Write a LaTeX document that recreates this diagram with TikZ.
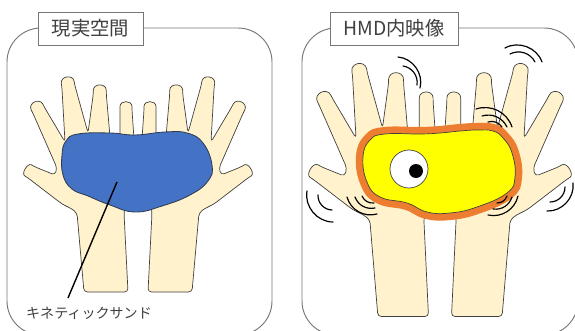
\documentclass[tikz,border=0pt]{standalone}
\usepackage{fontspec}
\setmainfont{Noto Sans CJK JP}
\definecolor{handfill}{HTML}{FFF2CC}
\definecolor{handline}{HTML}{404040}
\definecolor{sandblue}{HTML}{4472C4}
\definecolor{sandline}{HTML}{2F3B52}
\definecolor{jellyrim}{HTML}{ED7D31}
\definecolor{jellyfill}{HTML}{FFFF00}
\definecolor{panelgrey}{HTML}{767676}
\definecolor{textgrey}{HTML}{404040}
% outline of one (left) hand, palm up; origin at the palm centre line, #1 = arm end
\newcommand\handoutline[1]{%
 (-54,#1) -- (-61,46) .. controls (-66,42) .. (-76,37)
 -- (-110.3,10.7) .. controls (-117.1,6.5) and (-110.3,-4.5) .. (-103.5,-0.3)
 -- (-83,8) -- (-81,1)
 -- (-105.2,-54.0) .. controls (-110.2,-63.8) and (-98.6,-69.6) .. (-93.6,-59.8)
 -- (-73,-25)
 -- (-76.1,-80.0) .. controls (-77.9,-90.8) and (-65.1,-93.0) .. (-63.3,-82.2)
 -- (-50,-34)
 -- (-44.7,-73) .. controls (-44.7,-84) and (-31.7,-84) .. (-31.7,-73)
 -- (-28,-30) -- (-18,-30)
 -- (-18,-57) .. controls (-18,-67) and (-6,-67) .. (-6,-57)
 -- (-4,-28) -- (-14,46) -- (-10,#1) -- cycle}
% the sand lump and the jelly creature
\newcommand\sandshape{plot[smooth cycle, tension=0.75] coordinates {
 (66,141) (78,134) (110,133) (135,135) (165,132) (187,133) (203,143)
 (212,165) (208,181) (190,195) (162,206) (135,212) (110,205) (88,196)
 (72,189) (63,175) (62,155)}}
\newcommand\jellyshape{plot[smooth cycle, tension=0.75] coordinates {
 (370,140) (385,134) (420,134) (440,133) (460,131) (477,130) (493,131)
 (503,138) (512,153) (515,177) (507,193) (477,207) (450,213) (427,212)
 (407,203) (380,197) (367,182) (363,157)}}
\begin{document}
\begin{tikzpicture}[x=0.03cm, y=-0.03cm,
  panel/.style={draw=panelgrey, line width=0.8pt, rounded corners=29pt},
  tag/.style={draw=panelgrey, fill=white, line width=0.8pt, inner sep=0pt,
    minimum height=0.99cm, text=textgrey, font=\fontsize{16.5}{18}\selectfont},
  hand/.style={fill=handfill, draw=handline, line width=0.6pt,
    line join=round, rounded corners=3pt},
  shake/.style={draw=black, line width=1pt, line cap=round},
  leader/.style={draw=black, line width=1.2pt}]
\useasboundingbox (0,0) rectangle (575,331);
\clip (0,0) rectangle (575,331);

% ---- real space panel ----
\draw[panel] (7,28) rectangle (272,335);
\begin{scope}[shift={(138,167)}]
  \path[hand] \handoutline{125};
  \path[hand, xscale=-1] \handoutline{125};
\end{scope}
\draw[fill=sandblue, draw=sandline, line width=0.7pt] \sandshape;
\node[inner sep=0pt, text=textgrey, font=\fontsize{12}{14}\selectfont]
  (sandlabel) at (89,313) {キネティックサンド};
\coordinate (sandpt) at (117,182);
\coordinate (leaderend) at (68,298);
\draw[leader] (sandpt) -- (leaderend);
\node[tag, minimum width=3.15cm] (tagreal) at (90.5,28.5) {現実空間};

% ---- HMD view panel ----
\draw[panel] (302,28) rectangle (578,335);
\begin{scope}[shift={(440,167)}, scale=1.15]
  \path[hand] \handoutline{130};
  \path[hand, xscale=-1] \handoutline{130};
\end{scope}
\draw[draw=jellyrim, line width=12pt, line join=round] \jellyshape;
\draw[fill=jellyfill, draw=handline, line width=0.6pt] \jellyshape;
\draw[fill=white, draw=handline, line width=0.6pt] (409,169) circle[radius=0.57cm];
\fill[black] (416,171) circle[radius=0.21cm];

% shaking marks
\draw[shake] (398,57) to[bend left=50] (420,88);
\draw[shake] (403,66) to[bend left=45] (417,85);
\draw[shake] (505,48) to[bend left=50] (542,62);
\draw[shake] (510,54) to[bend left=45] (535,62);
\draw[shake] (476,109) to[bend left=45] (512,127);
\draw[shake] (482,116) to[bend left=40] (507,127);
\draw[shake] (488,122) to[bend left=35] (502,127);
\draw[shake] (307,191) to[bend right=50] (333,222);
\draw[shake] (318,195) to[bend right=45] (332,210);
\draw[shake] (347,197) to[bend right=45] (377,214);
\draw[shake] (355,197) to[bend right=40] (375,208);
\draw[shake] (362,196) to[bend right=35] (374,203);
\draw[shake] (488,215) to[bend right=45] (518,196);
\draw[shake] (493,209) to[bend right=40] (512,197);
\draw[shake] (497,203) to[bend right=35] (507,196);
\draw[shake] (547,211) to[bend right=50] (573,183);
\draw[shake] (550,202) to[bend right=45] (565,187);

\node[tag, minimum width=3.84cm] (taghmd) at (394,28.5) {HMD内映像};
\end{tikzpicture}
\end{document}
